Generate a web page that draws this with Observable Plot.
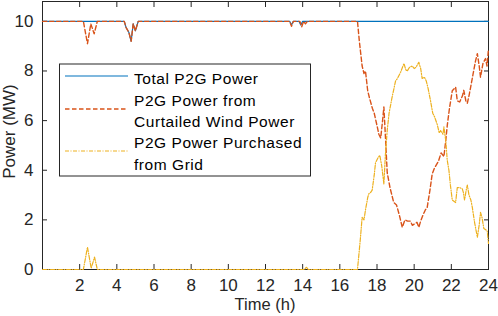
<!DOCTYPE html>
<html>
<head>
<meta charset="utf-8">
<script src="https://cdn.jsdelivr.net/npm/d3@7"></script>
<script src="https://cdn.jsdelivr.net/npm/@observablehq/plot@0.6"></script>
<style>
  html, body { margin: 0; padding: 0; background: white; }
</style>
</head>
<body>
<div id="chart"></div>
<script>
// ---- Data ----
const xTicks = [2, 4, 6, 8, 10, 12, 14, 16, 18, 20, 22, 24];
const yTicks = [0, 2, 4, 6, 8, 10];

const seriesNames = ["Total P2G Power", "P2G Power from\nCurtailed Wind Power", "P2G Power Purchased\nfrom Grid"];

// Total P2G Power
const timeTotal = [0, 4.4, 4.5, 4.65, 4.77, 4.88, 5.0, 5.15, 13.3, 13.4, 13.5, 13.8, 13.9, 14.0, 24];
const total     = [10, 10, 9.75, 9.55, 9.2, 9.9, 9.62, 10, 10, 9.85, 10, 10, 9.85, 10, 10];

// P2G Power from Curtailed Wind Power
const timeWind = [0, 2.2, 2.42, 2.6, 2.78, 2.95, 4.4, 4.5, 4.65, 4.77, 4.88, 5.0, 5.15,
  13.3, 13.4, 13.5, 13.85, 13.95, 14.05, 14.15, 14.25, 16.95,
  17.05, 17.2, 17.3, 17.38, 17.5, 17.6, 17.75, 17.85, 18.0, 18.1, 18.2, 18.3, 18.37, 18.45, 18.55,
  18.7, 18.9, 19.05, 19.2, 19.36, 19.5, 19.65, 19.8, 19.9, 20.05, 20.15, 20.25, 20.35, 20.45,
  20.6, 20.7, 20.85, 20.97, 21.1, 21.3, 21.45, 21.6, 21.7, 21.78, 21.9, 22.05, 22.23, 22.32,
  22.45, 22.6, 22.67, 22.78, 22.86, 22.95, 23.04, 23.2, 23.3, 23.4, 23.5, 23.57, 23.7, 23.84, 23.92, 24];
const wind = [10, 10, 9.1, 9.9, 9.5, 10, 10, 9.75, 9.55, 9.2, 9.9, 9.62, 10,
  10, 9.8, 10, 10, 9.78, 10, 9.9, 10, 10,
  9.2, 8.2, 7.9, 8.0, 7.2, 6.9, 6.5, 6.3, 5.8, 5.45, 5.3, 6.0, 6.55, 5.4, 3.9,
  3.3, 2.7, 2.6, 2.2, 1.7, 2.0, 1.95, 1.95, 1.78, 1.85, 1.9, 1.7, 1.95, 2.15,
  2.4, 2.5, 3.2, 3.85, 4.1, 4.35, 4.7, 4.55, 5.2, 5.8, 6.5, 7.2, 7.35, 6.8,
  6.75, 7.0, 7.22, 6.8, 6.7, 7.0, 7.35, 8.0, 8.4, 8.7, 8.2, 7.75, 8.3, 8.5, 8.2, 8.9];

// P2G Power Purchased from Grid
const timeGrid = [0, 2.2, 2.42, 2.62, 2.8, 2.95, 14.1, 14.2, 14.3, 16.95,
  17.1, 17.2, 17.3, 17.38, 17.5, 17.56, 17.65, 17.74, 17.85, 17.92, 18.05, 18.15, 18.25, 18.37,
  18.45, 18.55, 18.65, 18.8, 19.0, 19.1, 19.27, 19.45, 19.55, 19.63, 19.75, 19.9, 20.0, 20.1,
  20.25, 20.35, 20.43, 20.55, 20.65, 20.75, 20.88, 21.0, 21.1, 21.24, 21.35, 21.42, 21.55, 21.6,
  21.7, 21.78, 21.87, 21.95, 22.05, 22.23, 22.32, 22.45, 22.59, 22.65, 22.71, 22.8, 22.86, 22.95,
  23.05, 23.13, 23.25, 23.4, 23.5, 23.57, 23.65, 23.75, 23.85, 23.93, 24];
const grid = [0, 0, 0.9, 0.05, 0.5, 0, 0, 0.1, 0, 0,
  1.2, 2.1, 2.0, 2.4, 2.9, 3.05, 3.1, 3.2, 3.8, 4.3, 4.5, 4.6, 4.2, 3.45,
  4.6, 5.6, 6.3, 6.9, 7.6, 7.7, 7.95, 8.3, 8.05, 8.0, 8.15, 8.2, 8.1, 8.15,
  8.35, 8.1, 7.7, 7.75, 7.6, 7.3, 6.8, 6.3, 6.15, 5.85, 5.5, 5.6, 5.45, 5.75,
  5.2, 4.4, 4.0, 3.4, 2.8, 2.7, 3.3, 3.3, 3.25, 3.1, 2.8, 3.2, 3.4, 3.0,
  2.8, 2.5, 1.9, 1.3, 1.8, 2.3, 2.1, 1.65, 1.6, 1.55, 1.05];

// ---- Build tables ----
const totalData = timeTotal.map((t, i) => ({t, v: total[i]}));
const windData  = timeWind.map((t, i) => ({t, v: wind[i]}));
const gridData  = timeGrid.map((t, i) => ({t, v: grid[i]}));

const colors = ["#0072BD", "#D95319", "#EDB120"];
const dashes = [null, "4.5,2.5", "4,1.5,1,1.5"];
const widths = [1.2, 1.4, 1.2];
const ink = "#262626";
const font = "'Liberation Sans', Arial, Helvetica, sans-serif";

const chart = Plot.plot({
  width: 498,
  height: 316,
  marginLeft: 42,
  marginRight: 10,
  marginTop: 1,
  marginBottom: 47,
  style: {fontFamily: font, fontSize: "17px", color: ink, background: "white", overflow: "visible"},
  x: {domain: [0, 24]},
  y: {domain: [0, 10.8]},
  marks: [
    Plot.frame({stroke: ink, strokeWidth: 1}),
    Plot.axisX({ticks: xTicks, tickSize: -5, tickFormat: () => "", label: null, stroke: ink}),
    Plot.axisX({anchor: "top", ticks: xTicks, tickSize: -5, tickFormat: () => "", label: null, stroke: ink}),
    Plot.axisX({ticks: xTicks, tickSize: 0, tickPadding: 9, label: null, fontSize: 17, fill: ink}),
    Plot.axisY({ticks: yTicks, tickSize: -5, tickFormat: () => "", label: null, stroke: ink}),
    Plot.axisY({anchor: "right", ticks: yTicks, tickSize: -5, tickFormat: () => "", label: null, stroke: ink}),
    Plot.axisY({ticks: yTicks, tickSize: 0, tickPadding: 9, label: null, fontSize: 17, fill: ink}),
    Plot.line(totalData, {x: "t", y: "v", stroke: colors[0], strokeWidth: widths[0]}),
    Plot.line(windData, {x: "t", y: "v", stroke: colors[1], strokeWidth: widths[1], strokeDasharray: dashes[1]}),
    Plot.line(gridData, {x: "t", y: "v", stroke: colors[2], strokeWidth: widths[2], strokeDasharray: dashes[2]})
  ]
});

document.getElementById("chart").appendChild(chart);

// ---- Axis titles and in-plot legend ----
const svg = d3.select(chart);
svg.append("text")
  .attr("x", 265).attr("y", 310)
  .attr("text-anchor", "middle")
  .attr("font-family", font).attr("font-size", 16.5).attr("fill", ink)
  .text("Time (h)");
svg.append("text")
  .attr("transform", "translate(15,131.5) rotate(-90)")
  .attr("text-anchor", "middle")
  .attr("font-family", font).attr("font-size", 17).attr("fill", ink)
  .text("Power (MW)");

const lg = svg.append("g");
lg.append("rect")
  .attr("x", 59.5).attr("y", 64).attr("width", 251).attr("height", 112)
  .attr("fill", "white").attr("stroke", ink).attr("stroke-width", 1);

const sampleY = [76, 109, 151];
const textY = [[84], [105.5, 127], [148, 169.5]];
seriesNames.forEach((name, i) => {
  lg.append("line")
    .attr("x1", 65).attr("x2", 128).attr("y1", sampleY[i]).attr("y2", sampleY[i])
    .attr("stroke", colors[i]).attr("stroke-width", widths[i])
    .attr("stroke-dasharray", dashes[i]);
  name.split("\n").forEach((line, j) => {
    lg.append("text")
      .attr("x", 134).attr("y", textY[i][j])
      .attr("text-anchor", "start")
      .attr("font-family", font).attr("font-size", 15.5)
      .attr("letter-spacing", "0.55px").attr("fill", "#000")
      .text(line);
  });
});
</script>
</body>
</html>
